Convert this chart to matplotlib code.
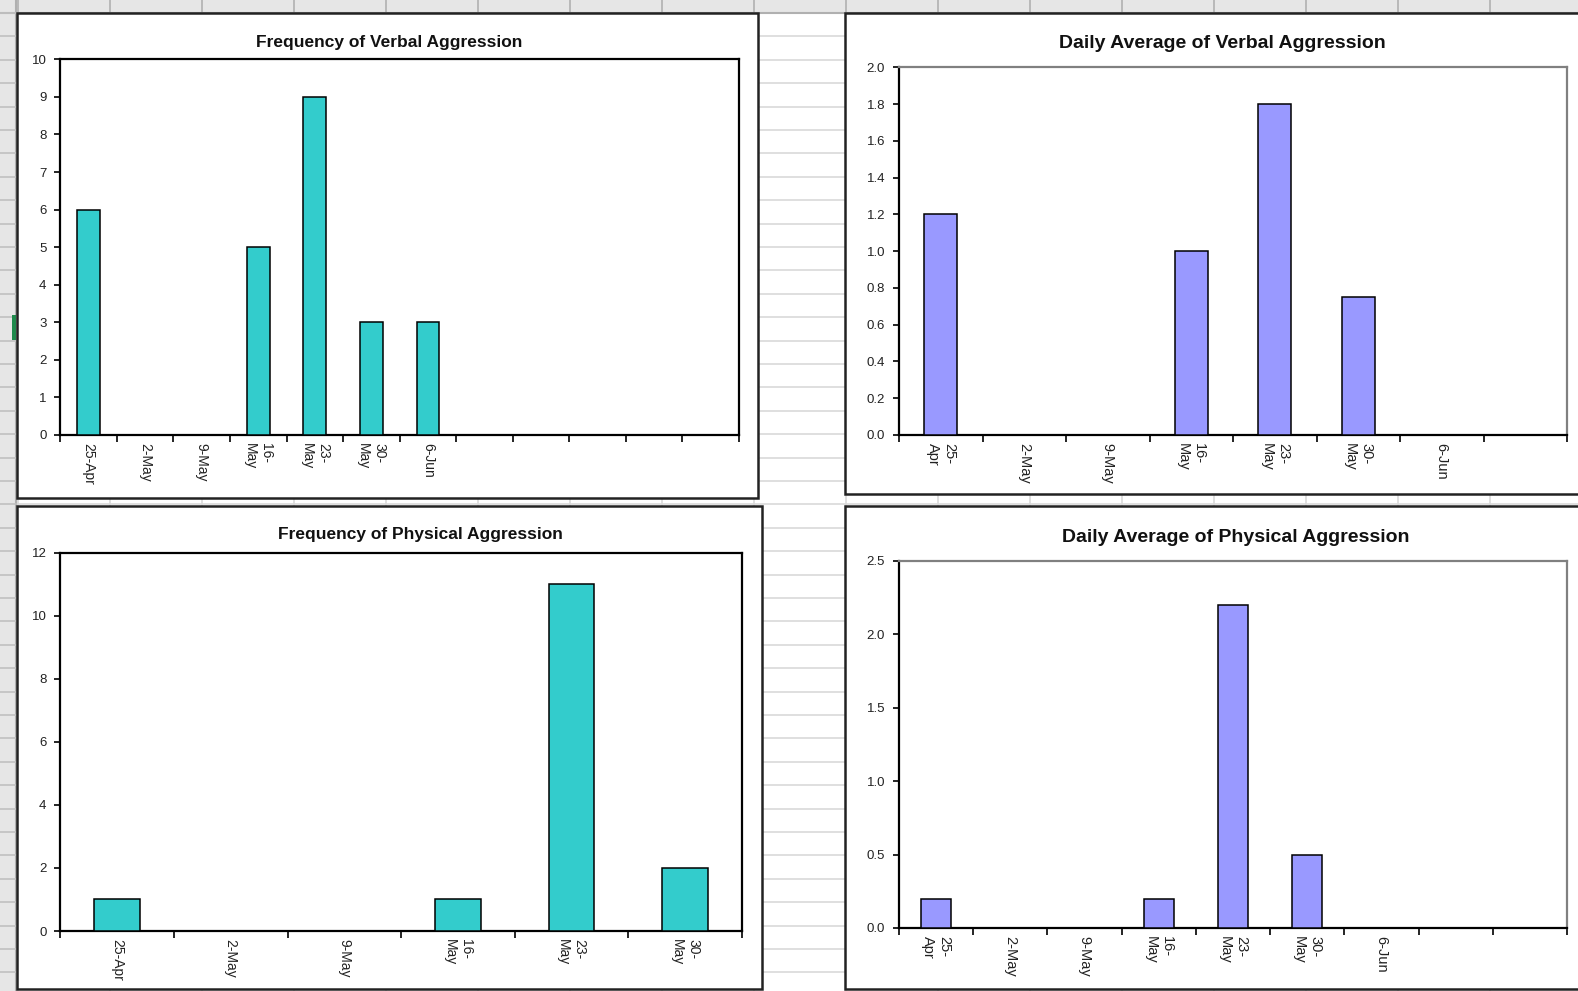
import matplotlib
matplotlib.use("Agg")
import matplotlib.pyplot as plt
from matplotlib.lines import Line2D
from matplotlib.patches import Rectangle
import numpy as np

plt.rcParams["font.family"] = ["Liberation Sans", "DejaVu Sans"]

# weekly counts and daily averages
freq_verbal_labels = ["25-Apr", "2-May", "9-May", "16-\nMay", "23-\nMay", "30-\nMay", "6-Jun"]
freq_verbal = [6, 0, 0, 5, 9, 3, 3]

avg_verbal_labels = ["25-\nApr", "2-May", "9-May", "16-\nMay", "23-\nMay", "30-\nMay", "6-Jun"]
avg_verbal = [1.2, 0, 0, 1.0, 1.8, 0.75, 0]

freq_physical_labels = ["25-Apr", "2-May", "9-May", "16-\nMay", "23-\nMay", "30-\nMay"]
freq_physical = [1, 0, 0, 1, 11, 2]

avg_physical_labels = ["25-\nApr", "2-May", "9-May", "16-\nMay", "23-\nMay", "30-\nMay", "6-Jun"]
avg_physical = [0.2, 0, 0, 0.2, 2.2, 0.5, 0]

TEAL = "#33CCCC"
LILAC = "#9999FF"

W, H = 1578, 991
fig = plt.figure(figsize=(W / 100, H / 100), dpi=100)
fig.patch.set_facecolor("white")


def px_box(x0, y0, x1, y1):
    # pixel box (top-left origin) -> figure fraction [left, bottom, width, height]
    return [x0 / W, 1 - y1 / H, (x1 - x0) / W, (y1 - y0) / H]


# worksheet grid behind the charts
for y in np.arange(13, H, 23.4):
    fig.add_artist(Line2D([0, 1], [1 - y / H] * 2, color="#d9d9d9", lw=1.2, zorder=-5))
for x in np.arange(18, W, 92):
    fig.add_artist(Line2D([x / W] * 2, [0, 1], color="#d9d9d9", lw=1.2, zorder=-5))
fig.add_artist(Rectangle((0, 1 - 13 / H), 1, 13 / H, transform=fig.transFigure,
                         facecolor="#e6e6e6", edgecolor="none", zorder=-4))
fig.add_artist(Rectangle((0, 0), 16 / W, 1, transform=fig.transFigure,
                         facecolor="#e6e6e6", edgecolor="none", zorder=-4))
fig.add_artist(Line2D([0, 1], [1 - 13 / H] * 2, color="#b0b0b0", lw=1.5, zorder=-3))
fig.add_artist(Line2D([16 / W] * 2, [0, 1], color="#b0b0b0", lw=1.5, zorder=-3))
for x in np.arange(18, W, 92):
    fig.add_artist(Line2D([x / W] * 2, [1, 1 - 13 / H], color="#b0b0b0", lw=1.2, zorder=-3))
for y in np.arange(13, H, 23.4):
    fig.add_artist(Line2D([0, 16 / W], [1 - y / H] * 2, color="#c0c0c0", lw=1.2, zorder=-3))
fig.add_artist(Rectangle((12 / W, 1 - 340 / H), 4 / W, 25 / H, transform=fig.transFigure,
                         facecolor="#1f8a4c", edgecolor="none", zorder=-3))


def chart(frame, plot, title, title_x, title_y, labels, values, n_slots, color,
          ymax, ystep, fmt, side_color, title_size, xlabel_size):
    x0, y0, x1, y1 = frame
    fig.add_artist(Rectangle((x0 / W, 1 - y1 / H), (x1 - x0) / W, (y1 - y0) / H,
                             transform=fig.transFigure, facecolor="white",
                             edgecolor="#222222", lw=1.8, zorder=-2))
    fig.text(title_x / W, 1 - title_y / H, title, ha="center", va="center",
             fontsize=title_size, fontweight="bold", color="#111111")

    ax = fig.add_axes(px_box(*plot))
    pos = np.arange(len(values))
    ax.bar(pos, values, width=0.4, color=color, edgecolor="black", linewidth=1.1, zorder=3)

    ax.set_xlim(-0.5, n_slots - 0.5)
    ax.set_ylim(0, ymax)
    ax.set_yticks(np.arange(0, ymax + ystep / 2, ystep))
    ax.set_yticklabels([fmt.format(v) for v in np.arange(0, ymax + ystep / 2, ystep)])

    ax.set_xticks(np.arange(-0.5, n_slots, 1.0))
    ax.set_xticklabels([])
    ax.set_xticks(np.arange(len(labels)), minor=True)
    ax.set_xticklabels(labels, minor=True, rotation=270, ha="center", va="top",
                       multialignment="left", fontsize=xlabel_size, color="#222222")
    ax.tick_params(axis="x", which="minor", length=0, pad=6)
    ax.tick_params(axis="x", which="major", length=5, width=1.2, direction="out", color="black")
    ax.tick_params(axis="y", length=4, width=1.2, direction="out", labelsize=9.5,
                   labelcolor="#222222", pad=6)

    for s in ("left", "bottom"):
        ax.spines[s].set_color("black")
        ax.spines[s].set_linewidth(1.6)
    for s in ("top", "right"):
        ax.spines[s].set_color(side_color)
        ax.spines[s].set_linewidth(1.6)
    return ax


chart((17, 13, 758, 498), (60.4, 59.4, 738.7, 434.8), "Frequency of Verbal Aggression",
      389, 42, freq_verbal_labels, freq_verbal, 12, TEAL, 10, 1, "{:.0f}", "black", 12.5, 10)
chart((845, 13, 1600, 494), (899, 67.4, 1567, 434.8), "Daily Average of Verbal Aggression",
      1222, 43, avg_verbal_labels, avg_verbal, 8, LILAC, 2.0, 0.2, "{:.1f}", "#808080", 14, 10.5)
chart((17, 506, 762, 989), (60.4, 552.5, 741.7, 931), "Frequency of Physical Aggression",
      420, 535, freq_physical_labels, freq_physical, 6, TEAL, 12, 2, "{:.0f}", "black", 12.5, 10)
chart((845, 506, 1600, 989), (899, 560.6, 1567, 928), "Daily Average of Physical Aggression",
      1236, 538, avg_physical_labels, avg_physical, 9, LILAC, 2.5, 0.5, "{:.1f}", "#808080", 14, 10.5)

fig.savefig("out.png", dpi=100)
